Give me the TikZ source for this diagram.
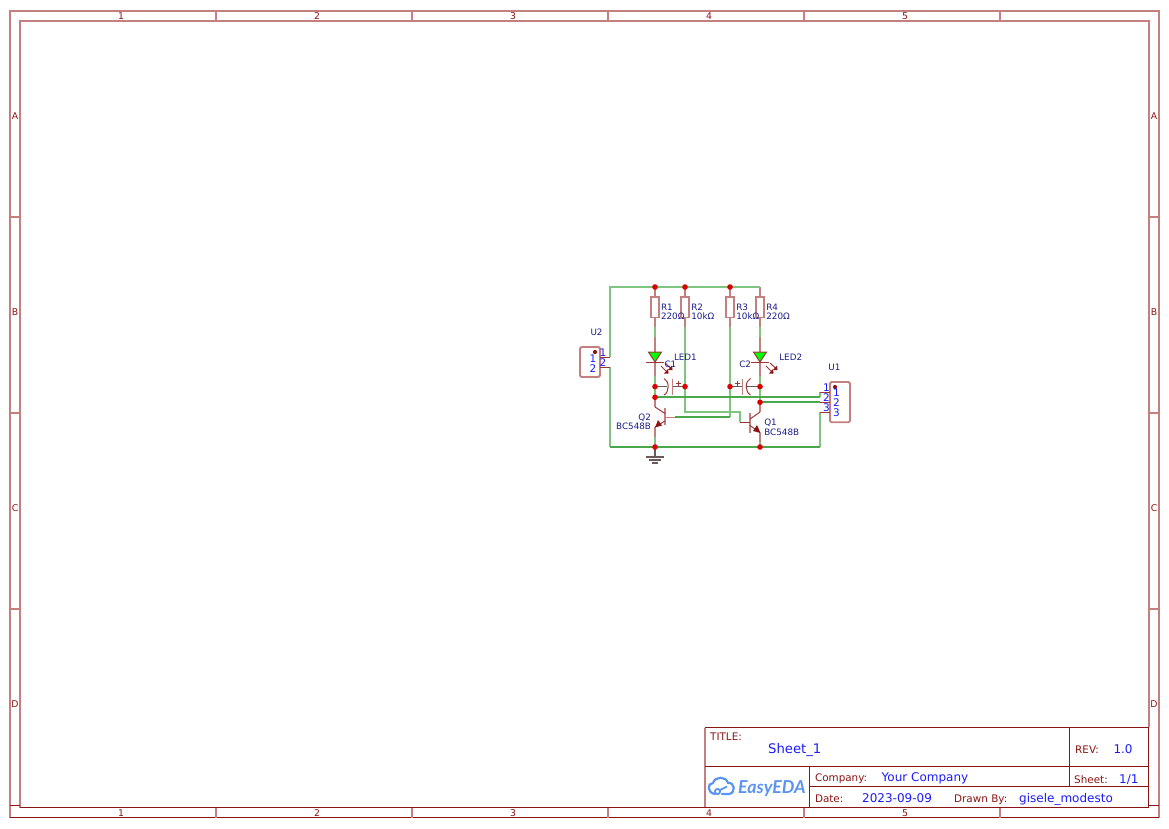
\documentclass[tikz,border=0pt]{standalone}
\usepackage{fontspec}
\setmainfont{DejaVu Sans}
\newfontfamily\logofont{Lato}
\definecolor{fb}{HTML}{8B1414}
\definecolor{fp}{HTML}{C47F7F}
\definecolor{wg}{HTML}{4AA84A}
\definecolor{wp}{HTML}{7FC47F}
\definecolor{nb}{HTML}{1C1C8C}
\definecolor{vb}{HTML}{1A1AFF}
\definecolor{jr}{HTML}{DD0000}
\definecolor{lb}{HTML}{5B93F0}
\definecolor{gp}{HTML}{6A5A5A}
\tikzset{
  wirel/.style={draw=wp,line width=1.8pt},
  wireh/.style={draw=wg,line width=1.7pt},
  compl/.style={draw=fp,line width=1.8pt},
  comph/.style={draw=fb!85!white,line width=1pt},
  gndl/.style={draw=gp,line width=1.1pt},
  frm/.style={draw=fp,line width=1.7pt},
  frd/.style={draw=fb,line width=1pt},
  tb/.style={draw=fb,line width=1pt},
  jct/.style={circle,fill=jr,draw=none,minimum size=5.6pt,inner sep=0pt},
  dotm/.style={circle,fill=fb,draw=none,minimum size=4.2pt,inner sep=0pt},
  lbl/.style={inner sep=0pt,outer sep=0pt,anchor=base west,text=nb,font=\fontsize{8.8}{8.8}\selectfont},
  lblr/.style={lbl,anchor=base east},
  pinnum/.style={inner sep=0pt,anchor=base,text=vb,font=\fontsize{10.5}{10.5}\selectfont},
  frl/.style={inner sep=0pt,anchor=base,text=fb,font=\fontsize{9.3}{9.3}\selectfont},
  tbk/.style={inner sep=0pt,anchor=base west,text=fb,font=\fontsize{10.4}{10.4}\selectfont},
  tbv/.style={inner sep=0pt,anchor=base west,text=vb,font=\fontsize{12}{12}\selectfont},
}
\begin{document}
\begin{tikzpicture}[x=1pt,y=-1pt]
\useasboundingbox (0,0) rectangle (1169,828);
% frame
\draw[frm] (10,817.5) -- (10,11) -- (1159,11) -- (1159,817.5);
\draw[frm] (20,807.5) -- (20,21) -- (1149,21) -- (1149,727);
\draw[frd] (10,817.5) -- (1159,817.5);
\draw[frd] (20,807.5) -- (1149,807.5);
\foreach \x in {216,412,608,804,1000}{
  \draw[frm] (\x,11) -- (\x,21);
  \draw[frm] (\x,807.5) -- (\x,817.5);
}
\foreach \y in {217,413,609}{
  \draw[frm] (10,\y) -- (20,\y);
  \draw[frm] (1149,\y) -- (1159,\y);
}
\draw[frd] (10,805) -- (20,805);
\draw[frd] (1149,805) -- (1159,805);
\foreach \n/\x in {1/121,2/317,3/513,4/709,5/905}{
  \node[frl] (top\n) at (\x,19.7) {\n};
  \node[frl] (bot\n) at (\x,816.5) {\n};
}
\foreach \n/\y in {A/119,B/315,C/511,D/707}{
  \node[frl] (lft\n) at (15,\y) {\n};
  \node[frl] (rgt\n) at (1154,\y) {\n};
}
% title block
\draw[frm] (705,727.7) -- (705,807.3);
\draw[tb] (705,727.7) -- (1148.8,727.7) -- (1148.8,807.3);
\draw[tb] (705,766.4) -- (1148.8,766.4);
\draw[tb] (809.3,766.4) -- (809.3,807.3);
\draw[tb] (809.3,786.4) -- (1148.8,786.4);
\draw[tb] (1069.4,727.7) -- (1069.4,786.4);
\node[tbk] (ttitle) at (710,740.3) {TITLE:};
\node[tbv,font=\fontsize{13.2}{13.2}\selectfont] (tsheet) at (768,753) {Sheet\_1};
\node[tbk] (tcomp) at (814.8,781) {Company:};
\node[tbv] (tcompv) at (881.5,781) {Your Company};
\node[tbk] (tdate) at (814.8,802.7) {Date:};
\node[tbv] (tdatev) at (862,802.7) {2023-09-09};
\node[tbk] (tdrawn) at (954,802.7) {Drawn By:};
\node[tbv] (tdrawnv) at (1019,802.7) {gisele\_modesto};
\node[tbk] (trev) at (1075,753.7) {REV:};
\node[tbv] (trevv) at (1113.3,753.7) {1.0};
\node[tbk] (tsh) at (1074,783) {Sheet:};
\node[tbv] (tshv) at (1119,783) {1/1};
% logo
\draw[lb,line width=2.2pt,line cap=round,line join=round]
  (715,794) .. controls (707,793) and (707,783) .. (713,783)
  .. controls (715,776) and (726,776) .. (728,783)
  .. controls (735,782) and (736,793) .. (729,794) -- (722,794);
\draw[lb,line width=1.8pt] (717.5,791.5) circle (2.6pt);
\draw[lb,line width=1.8pt] (720,790) -- (727,786.5);
\node[inner sep=0pt,anchor=base west,text=lb,font=\logofont\bfseries\itshape\fontsize{17.8}{17.8}\selectfont] (logo) at (738,793) {EasyEDA};
% coordinates
\foreach \n/\x in {a/655,b/685,c/730,d/760}{
  \coordinate (\n top) at (\x,287);
  \coordinate (\n rt) at (\x,297);
  \coordinate (\n rb) at (\x,317);
  \coordinate (\n p) at (\x,327);
}
\coordinate (tl) at (610,287);
\coordinate (u2a) at (610,357);
\coordinate (u2b) at (610,367);
\coordinate (bl) at (610,447);
\coordinate (gj) at (655,447);
\coordinate (qj) at (760,447);
\coordinate (br) at (820,447);
\coordinate (u1a) at (820,392.3);
\coordinate (u1aw) at (820,397.3);
\coordinate (u1b) at (820,402.3);
\coordinate (u1c) at (820,412);
\coordinate (j1) at (655,386.6);
\coordinate (j2) at (685,386.6);
\coordinate (j3) at (730,386.6);
\coordinate (j4) at (760,386.6);
\coordinate (j5) at (655,397.3);
\coordinate (j6) at (760,402.3);
% wires
\draw[wirel] (u2a) -- (tl) -- (dtop);
\draw[wirel] (u2b) -- (bl);
\draw[wirel] (br) -- (u1c);
\draw[wirel] (ap) -- (655,337);
\draw[wirel] (dp) -- (760,337);
\draw[wirel] (655,376) -- (j1) -- (j5);
\draw[wirel] (u1aw) -- (u1a);
\draw[wirel] (760,376) -- (j4) -- (j6);
\draw[wirel] (bp) -- (j2) -- (685,412) -- (740,412) -- (740,422);
\draw[wirel] (cp) -- (j3) -- (730,417.3);
\draw[wirel] (655,437) -- (gj);
\draw[wirel] (760,442) -- (qj);
\draw[wireh] (bl) -- (br);
\draw[wireh] (j5) -- (u1aw);
\draw[wireh] (j6) -- (u1b);
\draw[wireh] (730,417.3) -- (675,417.3);
% resistors
\foreach \n in {a,b,c,d}{
  \draw[compl] (\n top) -- (\n rt);
  \draw[compl] (\n rb) -- (\n p);
}
\draw[wirel] (atop) -- (dtop);
\foreach \x in {655,685,730,760}{
  \draw[compl] (\x-4,297) rectangle (\x+4,317.4);
}
\node[lbl] (r1) at (661,310.5) {R1};
\node[lbl] (r1v) at (661,319.3) {220Ω};
\node[lbl] (r2) at (691.3,310.5) {R2};
\node[lbl] (r2v) at (691.3,319.3) {10kΩ};
\node[lbl] (r3) at (736.3,310.5) {R3};
\node[lbl] (r3v) at (736.3,319.3) {10kΩ};
\node[lbl] (r4) at (766.3,310.5) {R4};
\node[lbl] (r4v) at (766.3,319.3) {220Ω};
% LEDs
\foreach \x/\n in {655/1,760/2}{
  \draw[compl] (\x,337) -- (\x,352);
  \draw[compl] (\x,362) -- (\x,376);
  \draw[comph,fill=green] (\x-6.5,352) -- (\x+6.5,352) -- (\x,362) -- cycle;
  \draw[comph] (\x-9,362) -- (\x+9,362);
  \draw[comph] (\x+6,366) -- (\x+13,373);
  \draw[comph] (\x+10,363) -- (\x+17,369.5);
  \fill[fb] (\x+9,373.5) -- (\x+13.5,373.5) -- (\x+13,369) -- cycle;
  \fill[fb] (\x+13,370) -- (\x+17.5,370) -- (\x+17,365.5) -- cycle;
}
\node[lbl] (led1) at (674,360.5) {LED1};
\node[lbl] (c1) at (664.5,367.5) {C1};
\node[lbl] (led2) at (779.3,360.5) {LED2};
\node[lbl] (c2) at (739.3,367.5) {C2};
% capacitors
\draw[gndl,line width=1.5pt] (j1) -- (667,386.6);
\draw[gndl,line width=1.5pt] (672.3,386.6) -- (j2);
\draw[compl,line width=1.5pt] (672.3,378.5) -- (672.3,395);
\draw[comph] (664,378.5) .. controls (669.6,381) and (669.6,392) .. (664,395);
\draw[comph] (675.5,383.3) -- (680.5,383.3) (678,381) -- (678,385.5);
\draw[gndl,line width=1.5pt] (j4) -- (747,386.6);
\draw[gndl,line width=1.5pt] (742.7,386.6) -- (j3);
\draw[compl,line width=1.5pt] (742.7,378.5) -- (742.7,395);
\draw[comph] (750.5,378.5) .. controls (744.8,381) and (744.8,392) .. (750.5,395);
\draw[comph] (734.5,383.3) -- (739.5,383.3) (737,381) -- (737,385.5);
% Q2
\draw[compl,line width=1.6pt] (665,408) -- (665,425);
\draw[compl,line width=1.6pt] (665,417.3) -- (675,417.3);
\draw[compl] (j5) -- (655,407);
\draw[comph] (655,407) -- (665,413.5);
\draw[comph] (665,421) -- (655,427);
\draw[compl] (655,427) -- (655,437);
\fill[fb] (655,427.5) -- (658,420) -- (662,425.5) -- cycle;
\node[lblr] (q2) at (651,420.5) {Q2};
\node[lblr] (q2v) at (651,429.7) {BC548B};
% Q1
\draw[compl,line width=1.6pt] (750,412.5) -- (750,432.5);
\draw[comph] (740,422) -- (750,422);
\draw[compl] (j6) -- (760,412);
\draw[comph] (760,412) -- (750,419);
\draw[comph] (750,425.5) -- (760,432.5);
\draw[compl] (760,432.5) -- (760,442);
\fill[fb] (760.5,433) -- (753,431) -- (757,425) -- cycle;
\node[lbl] (q1) at (764.3,425) {Q1};
\node[lbl] (q1v) at (764.3,435) {BC548B};
% GND
\draw[gndl,line width=1.6pt] (gj) -- (655,457);
\draw[gndl] (646,457) -- (664,457);
\draw[gndl] (649,460) -- (661,460);
\draw[gndl] (652,463) -- (658,463);
% U2
\draw[compl,rounded corners=1.5pt] (580,347) rectangle (600,377);
\draw[comph] (600,357) -- (u2a);
\draw[comph] (600,367) -- (u2b);
\node[dotm] (u2dot) at (595,352) {};
\node[lbl] (u2) at (590.5,335) {U2};
\node[pinnum] (u2i1) at (593,362) {1};
\node[pinnum] (u2i2) at (593,372) {2};
\node[pinnum] (u2o1) at (603,356.5) {1};
\node[pinnum] (u2o2) at (603,366) {2};
% U1
\draw[compl,rounded corners=1.5pt] (830,382) rectangle (850,422.3);
\draw[comph] (820,392.3) -- (830,392.3);
\draw[comph] (820,402.3) -- (830,402.3);
\draw[comph] (820,412) -- (830,412);
\node[dotm] (u1dot) at (835,387) {};
\node[lbl] (u1) at (828.3,370) {U1};
\node[pinnum] (u1i1) at (836.5,396.3) {1};
\node[pinnum] (u1i2) at (836.5,406.3) {2};
\node[pinnum] (u1i3) at (836.5,416.3) {3};
\node[pinnum] (u1o1) at (826.5,391.7) {1};
\node[pinnum] (u1o2) at (826.5,401) {2};
\node[pinnum] (u1o3) at (826.5,411.7) {3};
% junctions
\foreach \p in {atop,btop,ctop,j1,j2,j3,j4,j5,j6,gj,qj}{
  \node[jct] at (\p) {};
}
\end{tikzpicture}
\end{document}
